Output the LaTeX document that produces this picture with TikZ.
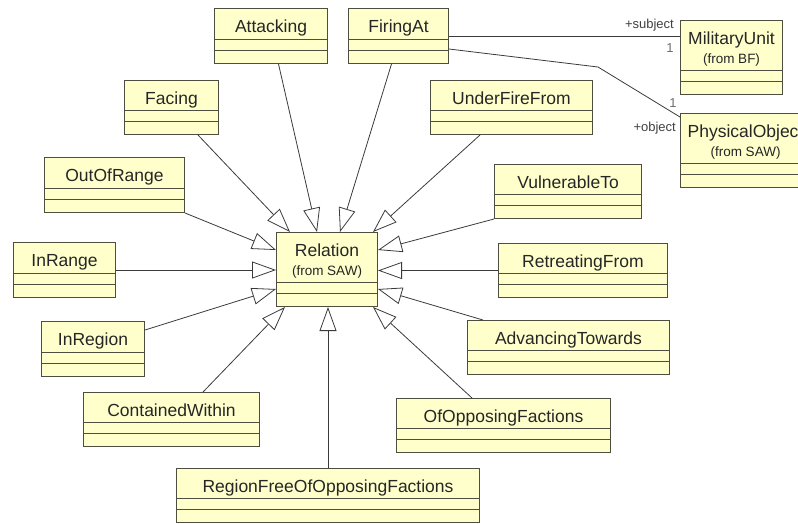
\documentclass[tikz,border=0pt]{standalone}
\usepackage{fontspec}
\setmainfont{Liberation Sans}
\usetikzlibrary{arrows.meta,calc}
\definecolor{classfill}{HTML}{FFFFCC}
\definecolor{boxline}{HTML}{4D4D40}
\definecolor{linkgray}{HTML}{3A3A3A}
\definecolor{multgray}{HTML}{6E6E6E}

\begin{document}
\begin{tikzpicture}[x=1pt,y=1pt,
    classbox/.style 2 args={draw=boxline,line width=1pt,fill=classfill,minimum width=#1,minimum height=#2,
      inner sep=0pt,anchor=north west,
      path picture={\draw[boxline,line width=1pt]
        ([yshift=13pt]path picture bounding box.south west) -- ([yshift=13pt]path picture bounding box.south east)
        ([yshift=24pt]path picture bounding box.south west) -- ([yshift=24pt]path picture bounding box.south east);}},
    cname/.style={label={[anchor=base,inner sep=0pt,yshift=-24pt,text=black!85,font=\fontsize{17.5}{20}\selectfont]north:#1}},
    fromlbl/.style={label={[anchor=base,inner sep=0pt,yshift=-43pt,text=black!85,font=\fontsize{13.5}{16}\selectfont]north:(from #1)}},
    gen/.style={draw=linkgray,line width=0.8pt,-{Triangle[open,length=24pt,width=17pt]}},
    assoc/.style={draw=linkgray,line width=0.8pt},
    role/.style={inner sep=0pt,text=black!75,font=\fontsize{13}{15}\selectfont}]
  \useasboundingbox (0,0) rectangle (798,-523);
  \clip (0,0) rectangle (798,-523);

  % central class
  \node[classbox={101}{74},cname=Relation,fromlbl=SAW] (rel) at (276,-232) {};

  % subclasses of Relation
  \node[classbox={113}{55},cname=Attacking] (att) at (214,-8) {};
  \node[classbox={100}{55},cname=FiringAt] (fir) at (348,-8) {};
  \node[classbox={94}{54},cname=Facing] (fac) at (124,-80) {};
  \node[classbox={162}{54},cname=UnderFireFrom] (ufr) at (430,-80) {};
  \node[classbox={140}{55},cname=OutOfRange] (oor) at (44,-157) {};
  \node[classbox={147}{54},cname=VulnerableTo] (vul) at (494,-164) {};
  \node[classbox={102}{55},cname=InRange] (inr) at (13,-242) {};
  \node[classbox={169}{54},cname=RetreatingFrom] (ret) at (498,-243) {};
  \node[classbox={103}{55},cname=InRegion] (irg) at (41,-321) {};
  \node[classbox={202}{54},cname=AdvancingTowards] (adv) at (467,-320) {};
  \node[classbox={176}{54},cname=ContainedWithin] (cwi) at (83,-392) {};
  \node[classbox={214}{54},cname=OfOpposingFactions] (oof) at (396,-398) {};
  \node[classbox={303}{54},cname=RegionFreeOfOpposingFactions] (rfo) at (176,-468) {};

  % associated classes
  \node[classbox={102}{74},cname=MilitaryUnit,fromlbl=BF] (mil) at (680,-20) {};
  \node[classbox={130}{74},cname=PhysicalObject,fromlbl=SAW] (phy) at (680,-113) {};

  % generalisations
  \draw[gen] ([xshift=-21pt]fac.south east) -- ([xshift=14pt]rel.north west);
  \draw[gen] ([xshift=7.5pt]att.south) -- ([xshift=41pt]rel.north west);
  \draw[gen] ([xshift=-7pt]fir.south) -- ([xshift=64pt]rel.north west);
  \draw[gen] ([xshift=50pt]ufr.south west) -- ([xshift=-5pt]rel.north east);
  \draw[gen] (oor.south east) -- ([yshift=-18pt]rel.north west);
  \draw[gen] (inr.east) -- (inr.east -| rel.west);
  \draw[gen] ([yshift=-9pt]irg.north east) -- ([yshift=18pt]rel.south west);
  \draw[gen] ([xshift=-57pt]cwi.north east) -- ([xshift=9pt]rel.south west);
  \draw[gen] (rfo.north) -- (rfo.north |- rel.south);
  \draw[gen] ([xshift=76pt]oof.north west) -- ([xshift=-5pt]rel.south east);
  \draw[gen] ([xshift=16pt]adv.north west) -- ([yshift=18pt]rel.south east);
  \draw[gen] (ret.west) -- (ret.west -| rel.east);
  \draw[gen] (vul.south west) -- ([yshift=-18pt]rel.north east);

  % associations of FiringAt
  \coordinate (bend) at (598,-67);
  \draw[assoc] ([yshift=-28pt]fir.north east) -- ([yshift=-28pt]fir.north east -| mil.west);
  \draw[assoc] ([yshift=-41pt]fir.north east) -- (bend) -- ([yshift=-4pt]phy.north west);
  \node[role,anchor=east] (subj) at ([xshift=-6pt,yshift=-5pt]mil.north west) {+subject};
  \node[role,text=multgray] (subjm) at ([xshift=-10pt,yshift=-28pt]mil.north west) {1};
  \node[role,text=multgray] (objm) at ([xshift=-7pt,yshift=10pt]phy.north west) {1};
  \node[role,anchor=east] (obj) at ([xshift=-4pt,yshift=-15pt]phy.north west) {+object};
\end{tikzpicture}
\end{document}
